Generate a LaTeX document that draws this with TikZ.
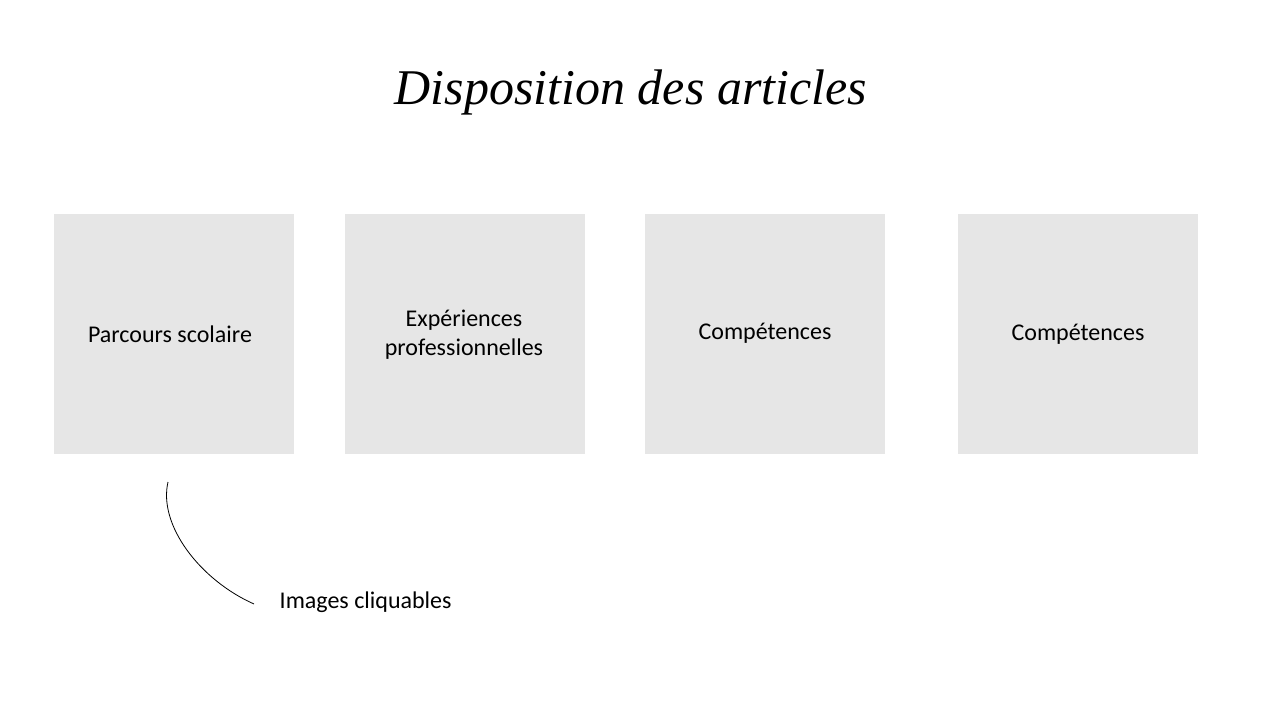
\documentclass[tikz,border=0pt]{standalone}
\usepackage{fontspec}
\setmainfont{Carlito}
\newfontfamily\titlefont{Liberation Serif}
\begin{document}
\begin{tikzpicture}[x=0.75pt,y=-0.75pt,
  card/.style={fill=cardgray,draw=none,minimum width=180pt,minimum height=180pt,inner sep=0pt,anchor=north west},
  lbl/.style={font=\fontsize{18}{22}\selectfont,align=center,text=black}]
\definecolor{cardgray}{HTML}{E6E6E6}
\useasboundingbox (0,0) rectangle (1280,720);
\node[anchor=base,font=\titlefont\itshape\fontsize{37.5}{44}\selectfont] (title) at (631,105) {Disposition des articles};
\node[card] (c1) at (54,214) {};
\node[card] (c2) at (345,214) {};
\node[card] (c3) at (645,214) {};
\node[card] (c4) at (958,214) {};
\node[lbl] (t1) at (170,334) {Parcours scolaire};
\node[lbl] (t2) at (464,335) {Expériences\\professionnelles};
\node[lbl] (t3) at (765,333) {Compétences};
\node[lbl] (t4) at (1078,334) {Compétences};
\node[lbl,anchor=west] (img) at (275,602) {Images cliquables};
\coordinate (cs) at (168,482);
\coordinate (ce) at (254,604);
\draw[black,line width=0.6pt] (cs) .. controls (158,525) and (200,580) .. (ce);
\end{tikzpicture}
\end{document}
